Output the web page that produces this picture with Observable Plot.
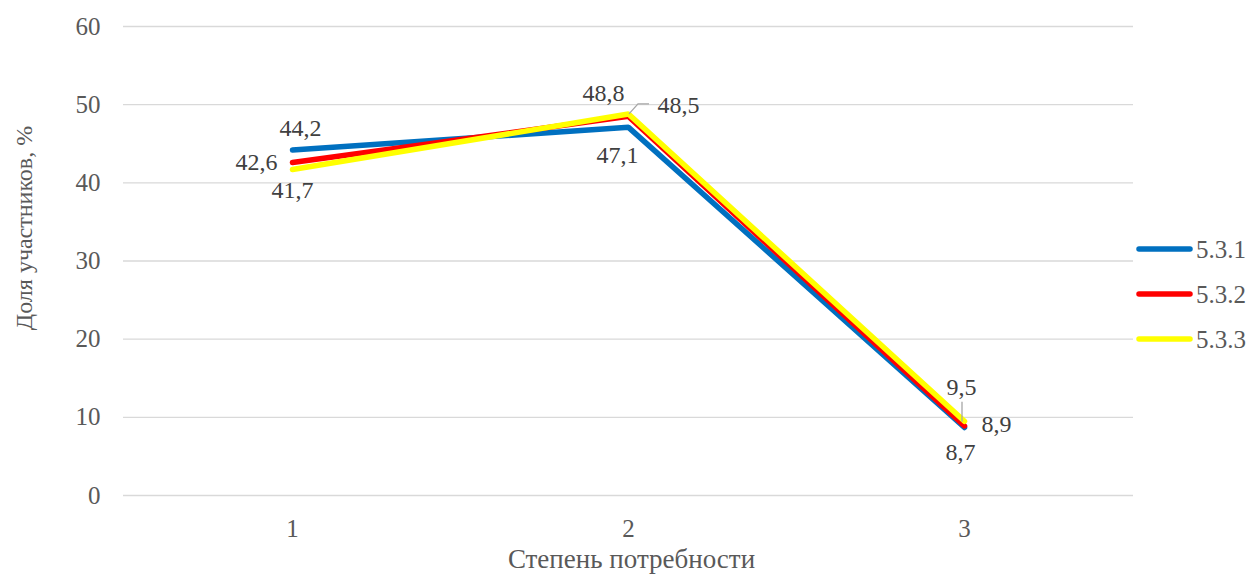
<!DOCTYPE html>
<html><head><meta charset="utf-8">
<script src="https://cdn.jsdelivr.net/npm/d3@7"></script>
<script src="https://cdn.jsdelivr.net/npm/@observablehq/plot@0.6"></script>
<style>
body{margin:0;background:#fff;}
#chart{position:relative;width:1252px;height:575px;overflow:hidden;}
#chart svg, #chart text{font-family:"Liberation Serif","Times New Roman",Tinos,"DejaVu Serif",serif !important;}
#legend{position:absolute;left:0;top:0;width:1252px;height:575px;pointer-events:none;}
</style></head><body><div id="chart"></div>
<script>
// ---- data ----
const categories = [1, 2, 3];
const seriesNames = ["5.3.1", "5.3.2", "5.3.3"];
const values531 = [44.2, 47.1, 8.7];
const values532 = [42.6, 48.5, 8.9];
const values533 = [41.7, 48.8, 9.5];
const yTicks = [0, 10, 20, 30, 40, 50, 60];
const xTitle = "Степень потребности";
const yTitle = "Доля участников, %";

// ---- styling ----
const colors = ["#0070C0", "#FF0000", "#FFFF00"];
const FONT = "Liberation Serif, Times New Roman, Tinos, DejaVu Serif, serif";
// label placement per series, per category: [dx, dy, anchor]
const labelPlacement = [
  [[8, -22, "middle"], [-11, 28, "middle"], [-4, 25, "middle"]],
  [[-15, 0, "end"], [29, -11, "start"], [17, -2, "start"]],
  [[0, 21, "middle"], [-25, -21, "middle"], [-3, -34, "middle"]]
];

const allValues = [values531, values532, values533];
const rows = [];
seriesNames.forEach((s, si) => categories.forEach((c, ci) => rows.push({series: s, cat: c, value: allValues[si][ci], si, ci})));

const fmt = v => v.toFixed(1).replace(".", ",");

const labelMarks = rows.map(r => {
  const [dx, dy, anchor] = labelPlacement[r.si][r.ci];
  return Plot.text([r], {x: "cat", y: "value", text: d => fmt(d.value), dx, dy, textAnchor: anchor,
    lineAnchor: "middle", fill: "#404040", fontSize: 24});
});

function leaders(index, scales) {
  const g = d3.create("svg:g").attr("stroke", "#a6a6a6").attr("stroke-width", 1.3).attr("fill", "none");
  const x2 = scales.x(2), y485 = scales.y(values532[1]);
  g.append("polyline").attr("points", `${x2 + 1},${y485 - 2} ${x2 + 10},${y485 - 12} ${x2 + 21},${y485 - 12}`);
  const x3 = scales.x(3), y95 = scales.y(values533[2]);
  g.append("line").attr("x1", x3 - 2).attr("x2", x3 - 2).attr("y1", y95 - 19).attr("y2", y95 + 1);
  return g.node();
}

const chart = Plot.plot({
  width: 1252,
  height: 575,
  marginLeft: 123,
  marginRight: 119,
  marginTop: 26,
  marginBottom: 80,
  style: {fontFamily: FONT, fontSize: "24px", color: "#595959", background: "#fff", overflow: "visible"},
  x: {type: "point", domain: categories, padding: 0.5, label: null},
  y: {domain: [0, 60], label: null},
  color: {domain: seriesNames, range: colors},
  marks: [
    Plot.ruleY(yTicks, {stroke: "#d9d9d9", strokeWidth: 1.3}),
    Plot.axisY({ticks: yTicks, tickSize: 0, tickPadding: 23, fontSize: 25, label: null}),
    Plot.axisX({tickSize: 0, tickPadding: 24, fontSize: 25, label: null}),
    Plot.line(rows, {x: "cat", y: "value", z: "series", stroke: "series", strokeWidth: 5.5,
      strokeLinecap: "round", strokeLinejoin: "miter"}),
    leaders,
    ...labelMarks,
    Plot.text([xTitle], {frameAnchor: "bottom", dx: 3, dy: 64, lineAnchor: "middle", fontSize: 27, fill: "#595959"}),
    Plot.text([yTitle], {frameAnchor: "left", textAnchor: "middle", dx: -99, dy: -33, rotate: -90, lineAnchor: "middle", fontSize: 24, fill: "#595959"})
  ]
});
const root = document.getElementById("chart");
root.appendChild(chart);

// legend
const legendY = [249, 294, 339];
const leg = d3.select(root).append("svg").attr("id", "legend").attr("width", 1252).attr("height", 575);
seriesNames.forEach((s, i) => {
  leg.append("line").attr("x1", 1139).attr("x2", 1190).attr("y1", legendY[i]).attr("y2", legendY[i])
    .attr("stroke", colors[i]).attr("stroke-width", 5.5).attr("stroke-linecap", "round");
  leg.append("text").attr("x", 1196).attr("y", legendY[i]).attr("dy", "0.35em")
    .attr("font-family", FONT).attr("font-size", 25).attr("fill", "#595959").text(s);
});
</script></body></html>
